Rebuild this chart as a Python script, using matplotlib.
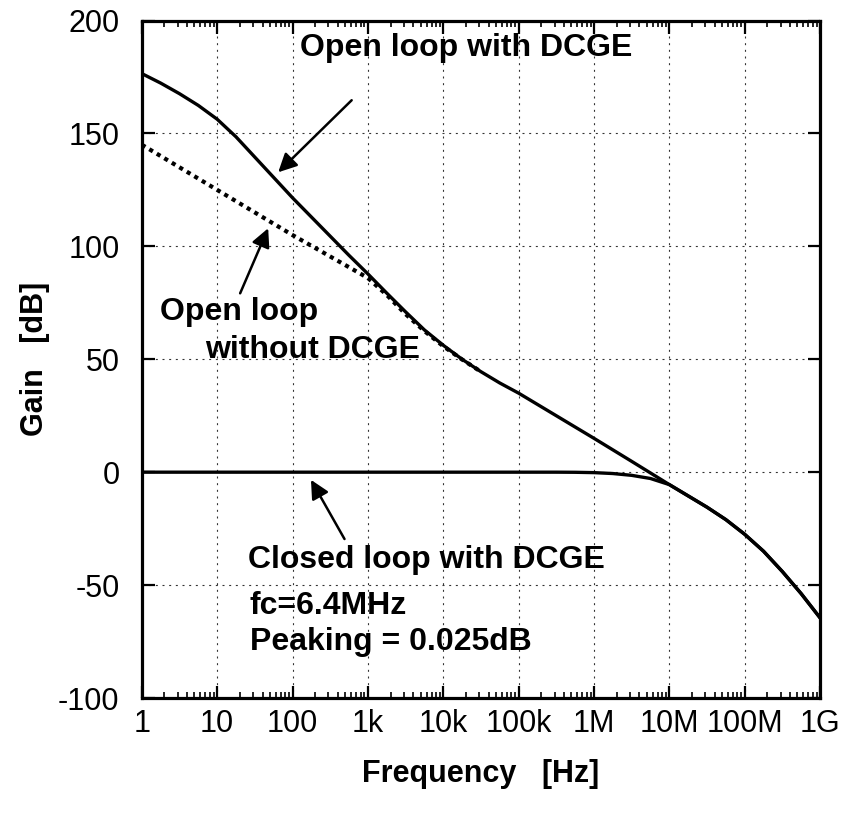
import numpy as np
import matplotlib
matplotlib.use("Agg")
import matplotlib.pyplot as plt
from matplotlib.ticker import FixedLocator, LogLocator, NullFormatter

plt.rcParams['font.family'] = ['Liberation Sans', 'DejaVu Sans']
plt.rcParams['axes.unicode_minus'] = False

# ---- data (decade exponent of frequency, gain in dB)
open_dcge_dec = [0, 0.25, 0.5, 0.75, 1.0, 1.25, 1.5, 1.75, 2.0, 2.25, 2.5, 2.75, 3.0, 3.25, 3.5, 3.75,
                 4.0, 4.25, 4.5, 4.75, 5.0, 5.5, 6.0, 6.5, 7.0, 7.25, 7.5, 7.75, 8.0, 8.25, 8.5, 8.75, 9.0]
open_dcge_db = [176.5, 172.3, 167.6, 162.4, 156.3, 148.5, 139.5, 130.5, 121.5, 113, 104.5, 96, 87.8, 79.3, 71, 63,
                56.2, 50, 44.5, 39.5, 35, 25, 15, 4.8, -5.5, -10.5, -15.5, -21, -27.5, -35, -44, -53.8, -64.5]

open_nodcge_dec = [0, 0.5, 1.0, 1.5, 2.0, 2.5, 3.0, 3.25, 3.5, 3.75, 4.0, 4.25, 4.5]
open_nodcge_db = [145, 135, 125, 115, 105, 95.5, 86, 78.5, 70, 62.5, 55.8, 49.9, 44.5]

closed_dec = [0, 2.0, 4.0, 5.0, 5.5, 5.75, 6.0, 6.25, 6.5, 6.75, 7.0, 7.25, 7.5, 7.75, 8.0, 8.25, 8.5, 8.75, 9.0]
closed_db = [0, 0, 0, 0, 0, -0.05, -0.2, -0.6, -1.4, -2.8, -5.5, -10.5, -15.5, -21, -27.5, -35, -44, -53.8, -64.5]

xtick_vals = [1, 10, 100, 1e3, 1e4, 1e5, 1e6, 1e7, 1e8, 1e9]
xtick_labels = ['1', '10', '100', '1k', '10k', '100k', '1M', '10M', '100M', '1G']
ytick_vals = [-100, -50, 0, 50, 100, 150, 200]

fig = plt.figure(figsize=(8.44, 8.14), dpi=100)
ax = fig.add_axes([0.168, 0.1425, 0.8036, 0.8323])

f1 = 10 ** np.array(open_dcge_dec)
f2 = 10 ** np.array(open_nodcge_dec)
f3 = 10 ** np.array(closed_dec)

ax.plot(f2, open_nodcge_db, color='k', lw=3.0, linestyle=(0, (1, 1.1)), dash_capstyle='butt')
ax.plot(f1, open_dcge_db, color='k', lw=2.4, solid_joinstyle='round')
ax.plot(f3, closed_db, color='k', lw=2.4, solid_joinstyle='round')

ax.set_xscale('log')
ax.set_xlim(1, 1e9)
ax.set_ylim(-100, 200)

ax.xaxis.set_major_locator(FixedLocator(xtick_vals))
ax.set_xticklabels(xtick_labels)
ax.xaxis.set_minor_locator(LogLocator(base=10, subs=np.arange(2, 10), numticks=100))
ax.xaxis.set_minor_formatter(NullFormatter())
ax.set_yticks(ytick_vals)

ax.grid(True, which='major', color='0.2', lw=0.8, linestyle=(0, (1.8, 4.2)))
ax.tick_params(which='major', direction='in', length=9, width=1.6, top=True, right=True)
ax.tick_params(which='minor', direction='in', length=4.5, width=1.2, top=True, right=False)
ax.tick_params(axis='y', which='minor', left=False, right=False)
ax.tick_params(axis='y', labelsize=22, pad=16)
ax.tick_params(axis='x', labelsize=22, pad=8)
for s in ax.spines.values():
    s.set_linewidth(2.3)

ax.set_xlabel('Frequency   [Hz]', fontsize=22, fontweight='bold', labelpad=14)
ax.set_ylabel('Gain   [dB]', fontsize=22, fontweight='bold', labelpad=6)

arrow = dict(arrowstyle='-|>', color='k', lw=1.8, mutation_scale=28, shrinkA=0, shrinkB=0)
tfont = dict(fontsize=23, fontweight='bold', va='center', ha='left')

ax.text(10 ** 2.1, 187.7, 'Open loop with DCGE', **tfont)
ax.annotate('', xy=(10 ** 1.81, 132.8), xytext=(10 ** 2.785, 164.7), arrowprops=arrow)

ax.text(10 ** 0.24, 70.9, 'Open loop', **tfont)
ax.text(10 ** 0.84, 54.1, 'without DCGE', **tfont)
ax.annotate('', xy=(10 ** 1.677, 108), xytext=(10 ** 1.305, 79.2), arrowprops=arrow)

ax.text(10 ** 1.41, -38.8, 'Closed loop with DCGE', **tfont)
ax.text(10 ** 1.43, -59.4, 'fc=6.4MHz', **tfont)
ax.text(10 ** 1.43, -75, 'Peaking = 0.025dB', **tfont)
ax.annotate('', xy=(10 ** 2.245, -3.4), xytext=(10 ** 2.69, -29.6), arrowprops=arrow)

fig.savefig('out.png', dpi=100)
